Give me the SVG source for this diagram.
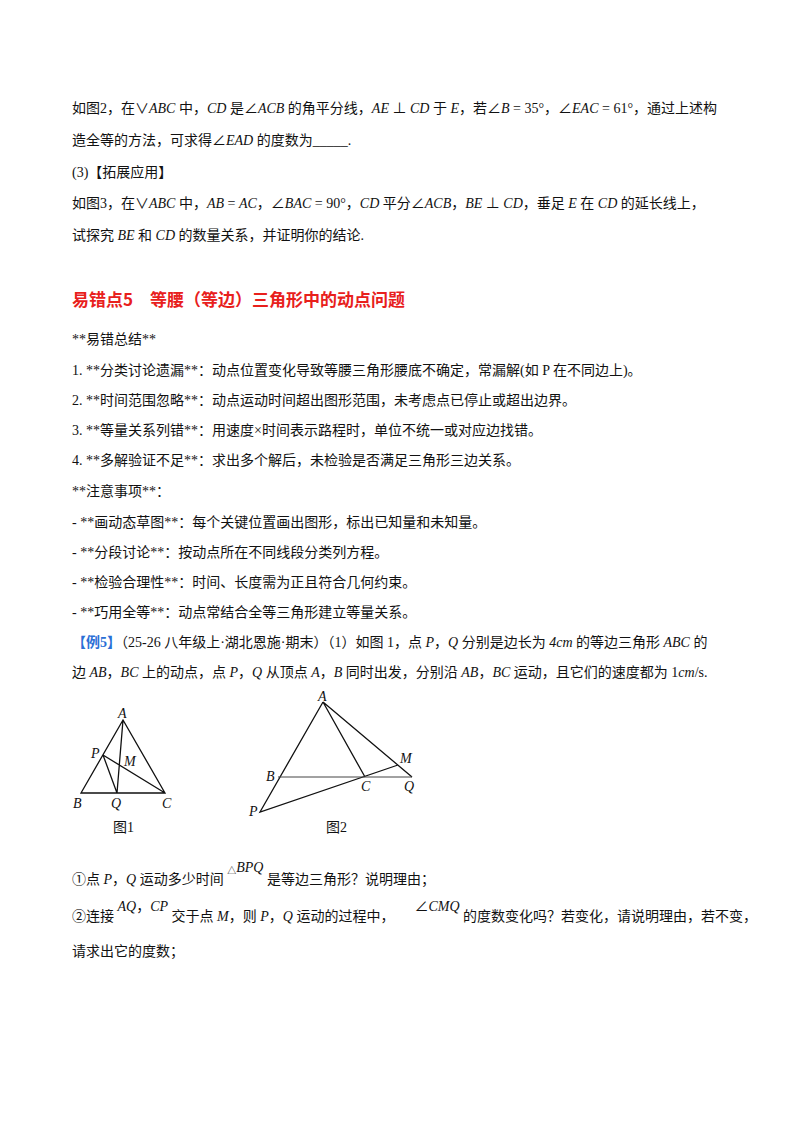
<svg xmlns="http://www.w3.org/2000/svg" width="800" height="1132" viewBox="0 0 800 1132">
<style>
text{font-family:"Liberation Serif","Noto Sans CJK SC",serif;font-size:14px;fill:#111}
.i{font-style:italic}
.h{font-family:"Noto Sans CJK SC",sans-serif;font-size:17px;font-weight:bold;fill:#e8201c}
.b{fill:#2a6fd6;font-weight:bold}
.l{stroke:#111;stroke-width:1.3;fill:none}
.s{font-size:9px}
</style>
<rect width="800" height="1132" fill="#fff"/>
<g id="text">
<text x="72" y="113">如图2，在∨<tspan class="i">ABC</tspan> 中，<tspan class="i">CD</tspan> 是∠<tspan class="i">ACB</tspan> 的角平分线，<tspan class="i">AE</tspan> ⊥ <tspan class="i">CD</tspan> 于 <tspan class="i">E</tspan>，若∠<tspan class="i">B</tspan> = 35°，∠<tspan class="i">EAC</tspan> = 61°，通过上述构</text>
<text x="72" y="145">造全等的方法，可求得∠<tspan class="i">EAD</tspan> 的度数为_____.</text>
<text x="72" y="177">(3)【拓展应用】</text>
<text x="72" y="208">如图3，在∨<tspan class="i">ABC</tspan> 中，<tspan class="i">AB</tspan> = <tspan class="i">AC</tspan>，∠<tspan class="i">BAC</tspan> = 90°，<tspan class="i">CD</tspan> 平分∠<tspan class="i">ACB</tspan>，<tspan class="i">BE</tspan> ⊥ <tspan class="i">CD</tspan>，垂足 <tspan class="i">E</tspan> 在 <tspan class="i">CD</tspan> 的延长线上，</text>
<text x="72" y="240">试探究 <tspan class="i">BE</tspan> 和 <tspan class="i">CD</tspan> 的数量关系，并证明你的结论.</text>
<text x="72" y="306" class="h">易错点5　等腰（等边）三角形中的动点问题</text>
<text x="72" y="344">**易错总结**</text>
<text x="72" y="375">1. **分类讨论遗漏**：动点位置变化导致等腰三角形腰底不确定，常漏解(如 P 在不同边上)。</text>
<text x="72" y="405">2. **时间范围忽略**：动点运动时间超出图形范围，未考虑点已停止或超出边界。</text>
<text x="72" y="435">3. **等量关系列错**：用速度×时间表示路程时，单位不统一或对应边找错。</text>
<text x="72" y="465">4. **多解验证不足**：求出多个解后，未检验是否满足三角形三边关系。</text>
<text x="72" y="496">**注意事项**：</text>
<text x="72" y="527">- **画动态草图**：每个关键位置画出图形，标出已知量和未知量。</text>
<text x="72" y="557">- **分段讨论**：按动点所在不同线段分类列方程。</text>
<text x="72" y="587">- **检验合理性**：时间、长度需为正且符合几何约束。</text>
<text x="72" y="617">- **巧用全等**：动点常结合全等三角形建立等量关系。</text>
<text x="72" y="647"><tspan class="b">【例5】</tspan>（25-26 八年级上·湖北恩施·期末）（1）如图 1，点 <tspan class="i">P</tspan>，<tspan class="i">Q</tspan> 分别是边长为 <tspan class="i">4cm</tspan> 的等边三角形 <tspan class="i">ABC</tspan> 的</text>
<text x="72" y="677">边 <tspan class="i">AB</tspan>，<tspan class="i">BC</tspan> 上的动点，点 <tspan class="i">P</tspan>，<tspan class="i">Q</tspan> 从顶点 <tspan class="i">A</tspan>，<tspan class="i">B</tspan> 同时出发，分别沿 <tspan class="i">AB</tspan>，<tspan class="i">BC</tspan> 运动，且它们的速度都为 1<tspan class="i">cm</tspan>/s.</text>
<text x="72" y="884">①点 <tspan class="i">P</tspan>，<tspan class="i">Q</tspan> 运动多少时间 <tspan dy="-10" class="s">△</tspan><tspan class="i" dy="-2">BPQ</tspan><tspan dy="12"> 是等边三角形？说明理由；</tspan></text>
<text x="72" y="921">②连接 <tspan class="i" dy="-10">AQ</tspan>，<tspan class="i">CP</tspan><tspan dy="10"> 交于点 </tspan><tspan class="i">M</tspan>，则 <tspan class="i">P</tspan>，<tspan class="i">Q</tspan> 运动的过程中，<tspan dx="20" dy="-10">∠</tspan><tspan class="i">CMQ</tspan><tspan dy="10"> 的度数变化吗？若变化，请说明理由，若不变，</tspan></text>
<text x="72" y="956">请求出它的度数；</text>
</g>
<g id="fig1">
<path class="l" d="M123,720 L81,793 L165,793 Z M123,720 L117,793 M103,755 L165,793 M103,755 L117,793"/>
<text x="118" y="718" class="i">A</text>
<text x="91" y="758" class="i">P</text>
<text x="124" y="766" class="i">M</text>
<text x="73" y="808" class="i">B</text>
<text x="111" y="808" class="i">Q</text>
<text x="162" y="808" class="i">C</text>
<text x="113" y="832">图1</text>
</g>
<g id="fig2">
<path class="l" d="M323,702 L260,812 L398,765 M323,702 L365,777 M323,702 L412,777"/>
<path d="M278,777 L412,777" stroke="#444" stroke-width="1" fill="none"/>
<text x="318" y="701" class="i">A</text>
<text x="400" y="763" class="i">M</text>
<text x="266" y="781" class="i">B</text>
<text x="361" y="791" class="i">C</text>
<text x="404" y="791" class="i">Q</text>
<text x="249" y="816" class="i">P</text>
<text x="326" y="832">图2</text>
</g>
</svg>
